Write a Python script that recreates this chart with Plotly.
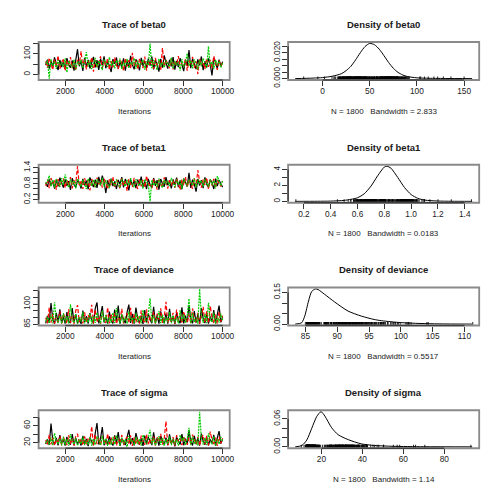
import plotly.graph_objects as go

# ---------------- data ----------------
iterations = list(range(1000, 10001, 90))  # thinned MCMC iterations (101 per chain)

beta0_chain1 = [45, 72, 28, 64, 39, 83, 50, 21, 70, 36,
                61, 26, 79, 47, 33, 68, 19, 75, 122, 40,
                66, 17, 81, 38, 71, 29, 58, 85, 34, 69,
                22, 76, 44, 88, 30, 63, 42, 12, 74, 51,
                82, 27, 60, 37, 78, 18, 67, 35, 90, 46,
                25, 73, 55, 20, 80, 41, 65, 31, 77, 43,
                86, 24, 69, 49, 14, 75, 33, 92, 57, 28,
                71, 39, 84, 23, 66, 36, 79, 52, 16, 70,
                41, 118, 30, 76, 54, 26, 73, 44, 87, 21,
                64, 35, 78, 48, -5, 81, 58, 29, 72, 40,
                62]
beta0_chain2 = [63, 32, 80, 45, 22, 74, 38, 91, 27, 58,
                77, 18, 68, 40, 84, 30, 62, 20, 71, 47,
                112, 35, 76, 24, 66, 49, 82, 13, 70, 37,
                57, 87, 29, 67, 43, 79, 23, 64, 34, 83,
                46, 26, 73, 55, 17, 78, 39, 69, 28, 104,
                42, 66, 25, 75, 53, 31, 86, 19, 63, 45,
                72, 27, 80, 41, 65, 21, 128, 36, 70, 50,
                30, 79, 24, 68, 44, 89, 28, 61, 38, 74,
                19, 67, 47, 85, 32, 63, 2, 76, 43, 60,
                26, 78, 37, 71, 29, 88, 52, 22, 69, 41,
                57]
beta0_chain3 = [52, 67, -20, 74, 41, 63, 27, 70, 44, 59,
                35, 78, 10, 65, 48, 33, 72, 24, 62, 46,
                71, 31, 60, 108, 38, 68, 26, 57, 80, 34,
                66, 45, 22, 73, 56, 36, 84, 40, 64, 29,
                69, 50, 77, 25, 61, 39, 75, 32, 58, 47,
                79, 28, 67, 37, 55, 72, 23, 63, 43, 150,
                30, 70, 49, 21, 76, 38, 59, 33, 68, 54,
                36, 82, 27, 65, 45, 61, 18, 74, 35, 57,
                103, 42, 66, 30, 73, 51, 24, 69, 39, 77,
                53, 31, 136, 40, 62, 26, 71, 46, 64, 34,
                55]

beta1_chain1 = [0.84, 0.68, 0.97, 0.73, 0.90, 0.61, 0.94, 0.70, 1.02, 0.79,
                0.65, 0.96, 0.72, 0.89, 0.57, 1.00, 0.77, 0.66, 0.93, 0.83,
                0.62, 0.98, 0.74, 0.91, 0.59, 1.03, 0.80, 0.67, 0.95, 0.64,
                1.05, 0.76, 1.10, 0.86, 0.45, 0.92, 0.69, 0.99, 0.71, 0.88,
                0.60, 0.94, 0.78, 1.04, 0.66, 0.97, 0.81, 0.55, 0.96, 0.73,
                0.91, 0.63, 0.95, 0.77, 1.06, 0.68, 0.88, 0.60, 0.98, 0.75,
                0.66, 1.01, 0.72, 0.93, 0.58, 0.97, 0.80, 0.69, 1.04, 0.74,
                0.90, 0.62, 0.96, 0.76, 1.02, 0.67, 0.92, 0.59, 0.99, 0.82,
                0.70, 1.20, 0.64, 0.95, 0.78, 0.50, 0.98, 0.73, 0.93, 0.63,
                1.03, 0.77, 0.68, 0.95, 0.85, 0.60, 0.99, 0.71, 0.94, 0.79,
                0.67]
beta1_chain2 = [0.72, 0.95, 0.63, 1.01, 0.78, 0.92, 0.58, 0.97, 0.69, 0.90,
                0.99, 0.64, 0.93, 0.74, 1.04, 0.62, 0.96, 0.80, 1.45, 0.70,
                0.92, 0.60, 1.00, 0.73, 0.95, 0.55, 0.97, 0.79, 0.67, 1.02,
                0.77, 0.94, 0.65, 0.98, 0.84, 0.59, 0.96, 0.74, 1.05, 0.66,
                0.95, 0.80, 0.61, 1.00, 0.71, 0.93, 0.53, 0.97, 0.78, 0.68,
                1.01, 0.79, 0.60, 0.96, 0.70, 0.94, 0.65, 1.09, 0.80, 0.73,
                0.63, 0.98, 0.86, 0.58, 0.96, 0.77, 0.68, 1.03, 0.82, 0.62,
                0.97, 0.72, 0.93, 0.64, 1.00, 0.79, 0.57, 0.95, 0.74, 1.04,
                0.67, 0.94, 0.81, 0.61, 0.99, 0.71, 1.30, 0.88, 0.65, 0.96,
                0.76, 1.02, 0.59, 0.94, 0.73, 0.98, 0.66, 0.92, 0.80, 0.70,
                0.90]
beta1_chain3 = [0.79, 0.90, 1.10, 0.70, 0.94, 0.65, 0.97, 0.78, 0.68, 1.00,
                0.74, 1.14, 0.86, 0.66, 0.96, 0.77, 0.92, 0.62, 0.98, 0.81,
                0.69, 0.95, 0.80, 0.60, 0.99, 0.87, 0.72, 0.94, 0.66, 0.97,
                0.83, 0.73, 1.01, 0.68, 0.93, 0.78, 0.63, 0.96, 0.85, 0.71,
                0.95, 0.79, 0.65, 0.98, 0.87, 0.70, 0.94, 0.74, 1.00, 0.77,
                0.67, 0.96, 0.83, 0.72, 0.93, 0.61, 0.97, 0.86, 0.76, 0.14,
                0.94, 0.73, 0.89, 0.67, 0.99, 0.80, 0.64, 0.95, 0.78, 0.91,
                0.71, 1.01, 0.84, 0.66, 0.96, 0.77, 0.90, 0.60, 0.98, 0.81,
                0.70, 0.94, 0.86, 0.73, 1.00, 0.65, 0.95, 0.80, 0.92, 0.69,
                0.97, 0.83, 0.67, 0.96, 0.75, 0.91, 0.62, 1.08, 0.85, 0.72,
                0.93]

deviance_chain1 = [85.6, 91.2, 86.0, 100.8, 88.7, 85.4, 93.5, 86.3, 96.1, 85.9,
                   90.4, 85.3, 94.0, 87.2, 85.8, 97.0, 86.1, 92.3, 85.5, 89.6,
                   85.2, 95.1, 86.6, 91.0, 85.4, 93.2, 88.0, 85.7, 96.8, 101.2,
                   85.5, 92.0, 98.4, 86.2, 90.6, 85.3, 94.4, 87.5, 85.6, 95.8,
                   86.9, 98.9, 85.4, 91.8, 88.3, 85.7, 93.9, 99.6, 85.9, 92.6,
                   85.3, 97.3, 89.1, 85.8, 91.4, 85.2, 95.4, 86.5, 93.0, 88.2,
                   85.6, 98.0, 86.0, 91.7, 85.3, 94.6, 89.0, 85.9, 92.9, 85.4,
                   96.5, 86.8, 90.9, 85.2, 93.6, 88.1, 85.7, 97.6, 85.5, 91.3,
                   86.4, 99.1, 88.6, 85.6, 94.8, 86.1, 92.1, 85.3, 96.9, 89.4,
                   85.8, 93.1, 85.4, 90.8, 86.7, 95.5, 85.5, 92.7, 98.8, 86.3,
                   90.1]
deviance_chain2 = [89.9, 85.5, 97.3, 86.1, 92.4, 85.3, 90.7, 86.8, 94.6, 85.4,
                   93.0, 88.3, 85.6, 96.2, 86.0, 91.5, 85.0, 95.0, 99.2, 86.4,
                   90.3, 85.5, 93.7, 86.2, 91.9, 88.6, 99.5, 85.4, 95.9, 86.5,
                   91.1, 85.3, 94.0, 88.5, 85.8, 97.4, 85.6, 92.2, 86.6, 93.8,
                   85.2, 90.5, 87.0, 96.4, 85.5, 89.4, 93.1, 85.9, 97.1, 85.4,
                   92.5, 86.3, 90.9, 85.5, 95.3, 87.9, 85.7, 96.0, 85.6, 91.0,
                   86.4, 94.3, 85.3, 92.8, 88.4, 96.8, 85.8, 90.2, 101.6, 85.5,
                   90.0, 86.2, 93.4, 85.4, 95.8, 87.3, 91.4, 85.6, 94.5, 89.2,
                   85.9, 92.1, 85.5, 96.7, 88.0, 86.0, 93.5, 85.4, 91.6, 97.9,
                   86.1, 94.9, 85.6, 98.6, 89.8, 85.7, 92.0, 85.3, 94.2, 86.9,
                   91.3]
deviance_chain3 = [87.0, 90.3, 85.9, 92.0, 85.6, 101.3, 88.9, 85.8, 91.4, 85.5,
                   93.3, 86.2, 90.8, 85.4, 99.9, 88.1, 86.0, 92.6, 85.3, 90.2,
                   86.7, 94.1, 85.6, 89.5, 86.1, 92.9, 85.4, 91.1, 85.9, 93.7,
                   88.4, 85.5, 95.2, 86.5, 91.8, 85.3, 90.0, 86.0, 93.4, 85.7,
                   96.9, 89.0, 85.6, 92.4, 86.3, 90.6, 85.2, 94.5, 87.1, 89.8,
                   85.7, 93.5, 86.4, 91.2, 85.5, 95.6, 88.2, 85.9, 92.3, 104.3,
                   86.2, 91.7, 85.6, 89.1, 94.8, 85.8, 92.0, 85.4, 90.4, 86.6,
                   93.9, 85.7, 91.5, 86.1, 89.7, 85.5, 95.4, 87.2, 92.5, 85.9,
                   90.9, 104.1, 85.6, 93.2, 86.4, 89.5, 85.3, 111.3, 91.0, 86.0,
                   92.7, 85.7, 101.0, 88.3, 86.5, 93.8, 85.4, 90.6, 86.2, 92.8,
                   88.0]

sigma_chain1 = [17.0, 28.5, 14.6, 65.0, 24.8, 15.3, 31.2, 13.9, 38.0, 18.2,
                27.1, 13.2, 33.5, 19.6, 15.4, 40.3, 14.1, 30.2, 16.5, 26.0,
                13.5, 35.8, 17.7, 28.9, 12.1, 32.4, 22.3, 14.8, 42.1, 66.0,
                15.8, 30.0, 57.0, 14.0, 27.6, 16.9, 34.7, 20.5, 13.3, 37.2,
                18.9, 45.2, 12.8, 29.5, 23.0, 14.5, 33.1, 50.3, 16.2, 31.0,
                13.6, 42.5, 25.4, 15.1, 29.9, 12.5, 36.6, 18.0, 32.8, 21.7,
                14.3, 44.1, 17.2, 30.6, 13.0, 35.2, 24.6, 15.6, 31.9, 14.2,
                39.8, 18.5, 27.8, 11.5, 33.0, 22.1, 16.0, 40.2, 14.0, 29.2,
                17.4, 48.0, 24.0, 13.4, 36.1, 16.4, 30.5, 12.9, 41.6, 23.8,
                15.5, 33.6, 13.8, 28.4, 18.6, 38.7, 13.1, 31.4, 47.2, 17.9,
                27.3]
sigma_chain2 = [26.0, 14.2, 38.5, 16.1, 31.8, 13.1, 28.7, 18.0, 35.7, 13.4,
                33.0, 22.9, 14.5, 37.9, 16.4, 30.3, 12.6, 36.2, 40.6, 17.2,
                28.8, 14.0, 34.6, 16.0, 31.0, 23.5, 58.2, 13.3, 39.4, 16.8,
                30.7, 12.9, 35.3, 24.3, 15.0, 41.2, 13.8, 32.1, 17.4, 34.0,
                13.0, 29.3, 19.1, 38.1, 14.4, 26.9, 33.7, 15.7, 37.4, 12.7,
                32.2, 16.6, 29.7, 13.5, 36.8, 23.7, 15.2, 39.7, 13.9, 28.5,
                17.0, 34.9, 12.8, 32.7, 22.8, 41.0, 15.4, 30.0, 70.5, 13.6,
                27.9, 16.2, 33.4, 13.2, 37.6, 21.4, 29.1, 14.1, 35.0, 25.6,
                15.0, 31.6, 16.9, 38.9, 24.9, 15.9, 33.9, 13.0, 30.8, 38.0,
                16.5, 36.0, 13.7, 46.0, 27.0, 14.6, 32.0, 12.4, 34.4, 18.3,
                30.4]
sigma_chain3 = [19.0, 27.3, 15.6, 32.0, 14.4, 42.3, 25.2, 16.7, 30.1, 13.6,
                34.1, 15.1, 28.9, 12.9, 40.1, 24.5, 16.2, 31.6, 12.7, 27.9,
                16.9, 35.1, 14.0, 26.6, 15.3, 32.9, 13.2, 28.7, 14.8, 34.4,
                25.0, 13.8, 36.3, 16.3, 30.4, 12.3, 27.0, 15.0, 33.4, 15.6,
                37.3, 26.2, 13.4, 31.8, 17.1, 28.3, 10.2, 35.4, 23.9, 26.8,
                14.2, 33.9, 16.6, 29.1, 13.3, 38.5, 25.1, 15.4, 32.1, 50.4,
                15.9, 30.5, 13.7, 27.2, 35.6, 14.7, 32.2, 12.8, 28.6, 17.3,
                34.8, 14.4, 29.6, 16.0, 26.9, 13.0, 37.9, 24.2, 32.7, 15.0,
                28.0, 55.1, 14.1, 34.2, 16.8, 26.3, 13.4, 93.0, 29.3, 15.7,
                31.7, 14.5, 42.0, 24.6, 16.2, 35.0, 13.0, 28.1, 16.7, 33.1,
                24.8]

# density curves
dens_beta0_x = [-29, -10, 0, 10, 20, 25, 30, 35, 40, 45, 50, 55, 60, 65, 70, 75, 80, 85, 90, 100, 110, 130, 158.5]
dens_beta0_y = [0, 0.0004, 0.0008, 0.0018, 0.0038, 0.0062, 0.0095, 0.0145, 0.0200, 0.0248, 0.0272, 0.0262,
                0.0228, 0.0178, 0.0125, 0.0080, 0.0048, 0.0028, 0.0016, 0.0006, 0.0003, 0.0001, 0]
dens_beta1_x = [0.135, 0.3, 0.4, 0.5, 0.55, 0.6, 0.65, 0.7, 0.75, 0.8, 0.82, 0.85, 0.9, 0.95, 1.0, 1.05,
                1.1, 1.2, 1.3, 1.455]
dens_beta1_y = [0, 0.01, 0.03, 0.12, 0.25, 0.45, 0.95, 1.9, 3.2, 4.3, 4.41, 4.15, 3.0, 1.75, 0.85,
                0.38, 0.16, 0.04, 0.01, 0]
dens_deviance_x = [83.4, 84.4, 84.9, 85.5, 86.0, 86.6, 87.0, 88.0, 89.6, 91.7, 93.8, 95.8, 97.0, 100, 103,
                   106, 111.2]
dens_deviance_y = [0, 0.006, 0.038, 0.11, 0.155, 0.167, 0.164, 0.142, 0.105, 0.062, 0.038, 0.022, 0.016,
                   0.007, 0.003, 0.001, 0]
dens_sigma_x = [7.2, 10.5, 12.9, 15.3, 17.7, 19.8, 21.7, 25.0, 28.2, 33.1, 39.5, 45.9, 55, 70, 93.6]
dens_sigma_y = [0, 0.003, 0.015, 0.040, 0.065, 0.0755, 0.066, 0.041, 0.026, 0.0155, 0.0064, 0.003,
                0.0012, 0.0003, 0]

params = ["beta0", "beta1", "deviance", "sigma"]
chains = {
    "beta0": [beta0_chain1, beta0_chain2, beta0_chain3],
    "beta1": [beta1_chain1, beta1_chain2, beta1_chain3],
    "deviance": [deviance_chain1, deviance_chain2, deviance_chain3],
    "sigma": [sigma_chain1, sigma_chain2, sigma_chain3],
}
densities = {
    "beta0": (dens_beta0_x, dens_beta0_y),
    "beta1": (dens_beta1_x, dens_beta1_y),
    "deviance": (dens_deviance_x, dens_deviance_y),
    "sigma": (dens_sigma_x, dens_sigma_y),
}
bandwidths = {"beta0": "2.833", "beta1": "0.0183", "deviance": "0.5517", "sigma": "1.14"}
n_samples = 1800

trace_xticks = [2000, 4000, 6000, 8000, 10000]
trace_yticks = {
    "beta0": ([0, 50, 100, 150], ["0", "", "100", ""]),
    "beta1": ([0.2, 0.4, 0.6, 0.8, 1.0, 1.2, 1.4], ["0.2", "", "", "0.8", "", "", "1.4"]),
    "deviance": ([85, 90, 95, 100, 105, 110], ["85", "", "", "100", "", ""]),
    "sigma": ([20, 40, 60, 80], ["20", "", "60", ""]),
}
dens_xticks = {
    "beta0": ([0, 50, 100, 150], ["0", "50", "100", "150"]),
    "beta1": ([0.2, 0.4, 0.6, 0.8, 1.0, 1.2, 1.4], ["0.2", "0.4", "0.6", "0.8", "1.0", "1.2", "1.4"]),
    "deviance": ([85, 90, 95, 100, 105, 110], ["85", "90", "95", "100", "105", "110"]),
    "sigma": ([20, 40, 60, 80], ["20", "40", "60", "80"]),
}
dens_yticks = {
    "beta0": ([0, 0.005, 0.010, 0.015, 0.020, 0.025], ["0.000", "", "", "", "0.020", ""]),
    "beta1": ([0, 1, 2, 3, 4], ["0", "", "2", "", "4"]),
    "deviance": ([0, 0.05, 0.10, 0.15], ["0.00", "", "", "0.15"]),
    "sigma": ([0, 0.02, 0.04, 0.06], ["0.00", "", "", "0.06"]),
}

chain_colors = ["#000000", "#FF0000", "#00CD00"]
chain_dash = ["solid", "4px,2px", "2px,1px"]

# ---------------- layout helpers ----------------
W = H = 504
FONT = "Liberation Sans, Arial, Helvetica, sans-serif"
TXT = "#1a1a1a"
col_x = [(39, 232), (291, 484)]
row_top, row_bottom, row_h = 38, 77, 126


def pad(lo, hi):
    d = (hi - lo) * 0.04
    return [lo - d, hi + d]


fig = go.Figure()
layout = dict(width=W, height=H, margin=dict(l=0, r=0, t=0, b=0),
              paper_bgcolor="white", plot_bgcolor="white", showlegend=False,
              font=dict(family=FONT, color=TXT, size=8.3))
annotations = []
shapes = []

axis_common = dict(showgrid=False, zeroline=False, showline=False, ticks="outside", ticklen=5,
                   tickwidth=1, tickcolor="#333", tickfont=dict(size=8.3, family=FONT, color=TXT),
                   fixedrange=True, tickmode="array")

n = 0
for r, p in enumerate(params):
    for c in range(2):
        n += 1
        xa = "x" if n == 1 else f"x{n}"
        ya = "y" if n == 1 else f"y{n}"
        xl, xr = col_x[c]
        top = row_top + r * row_h
        bot = row_bottom + r * row_h
        xdom = [xl / W, xr / W]
        ydom = [1 - bot / H, 1 - top / H]

        if c == 0:
            for k, vals in enumerate(chains[p]):
                fig.add_trace(go.Scatter(x=iterations, y=vals, mode="lines", xaxis=xa, yaxis=ya,
                                         line=dict(color=chain_colors[k], width=1.2, dash=chain_dash[k]),
                                         hoverinfo="skip"))
            allv = [v for ch in chains[p] for v in ch]
            xr_ = pad(min(iterations), max(iterations))
            yr_ = pad(min(allv), max(allv))
            xt, xtt = trace_xticks, [str(v) for v in trace_xticks]
            yt, ytt = trace_yticks[p]
            title = f"Trace of {p}"
            sub = "Iterations"
        else:
            dx, dy = densities[p]
            allv = [v for ch in chains[p] for v in ch]
            fig.add_trace(go.Scatter(x=dx, y=dy, mode="lines", xaxis=xa, yaxis=ya,
                                     line=dict(color="#000000", width=1, shape="spline", smoothing=0.7),
                                     hoverinfo="skip"))
            fig.add_trace(go.Scatter(x=allv, y=[0] * len(allv), mode="markers", xaxis=xa, yaxis=ya,
                                     marker=dict(symbol="line-ns-open", size=3, opacity=0.85,
                                                 color="#000000",
                                                 line=dict(color="#000000", width=1)),
                                     hoverinfo="skip"))
            xr_ = pad(min(dx), max(dx))
            yr_ = pad(0, max(dy))
            xt, xtt = dens_xticks[p]
            yt, ytt = dens_yticks[p]
            title = f"Density of {p}"
            sub = f"N = {n_samples}   Bandwidth = {bandwidths[p]}"

        xkey = "xaxis" if n == 1 else f"xaxis{n}"
        ykey = "yaxis" if n == 1 else f"yaxis{n}"
        layout[xkey] = dict(axis_common, domain=xdom, anchor=ya, range=xr_, tickvals=xt, ticktext=xtt,
                            ticklabelstandoff=-2)
        layout[ykey] = dict(axis_common, domain=ydom, anchor=xa, range=yr_, tickvals=yt, ticktext=ytt,
                            tickangle=-90, ticklabelstandoff=-1)

        # plot box
        shapes.append(dict(type="rect", xref=f"{xa} domain", yref=f"{ya} domain", x0=0, x1=1, y0=0, y1=1,
                           line=dict(color="#8a8a8a", width=1.8), layer="above"))
        # axis lines spanning first..last tick
        shapes.append(dict(type="line", xref=xa, yref=f"{ya} domain", x0=xt[0], x1=xt[-1], y0=0, y1=0,
                           line=dict(color="#404040", width=1.5), layer="above"))
        shapes.append(dict(type="line", xref=f"{xa} domain", yref=ya, x0=0, x1=0, y0=yt[0], y1=yt[-1],
                           line=dict(color="#404040", width=1.5), layer="above"))

        cx = (xl + xr) / 2 / W
        annotations.append(dict(text=f"<b>{title}</b>", x=cx, y=1 - (20 + r * row_h) / H, xref="paper",
                                yref="paper", showarrow=False, xanchor="center", yanchor="middle",
                                font=dict(size=9.5, family=FONT, color=TXT)))
        annotations.append(dict(text=sub, x=cx, y=1 - (109 + r * row_h) / H, xref="paper", yref="paper",
                                showarrow=False, xanchor="center", yanchor="middle",
                                font=dict(size=8, family=FONT, color=TXT)))

layout["annotations"] = annotations
layout["shapes"] = shapes
fig.update_layout(**layout)
fig.write_html("out.html")
